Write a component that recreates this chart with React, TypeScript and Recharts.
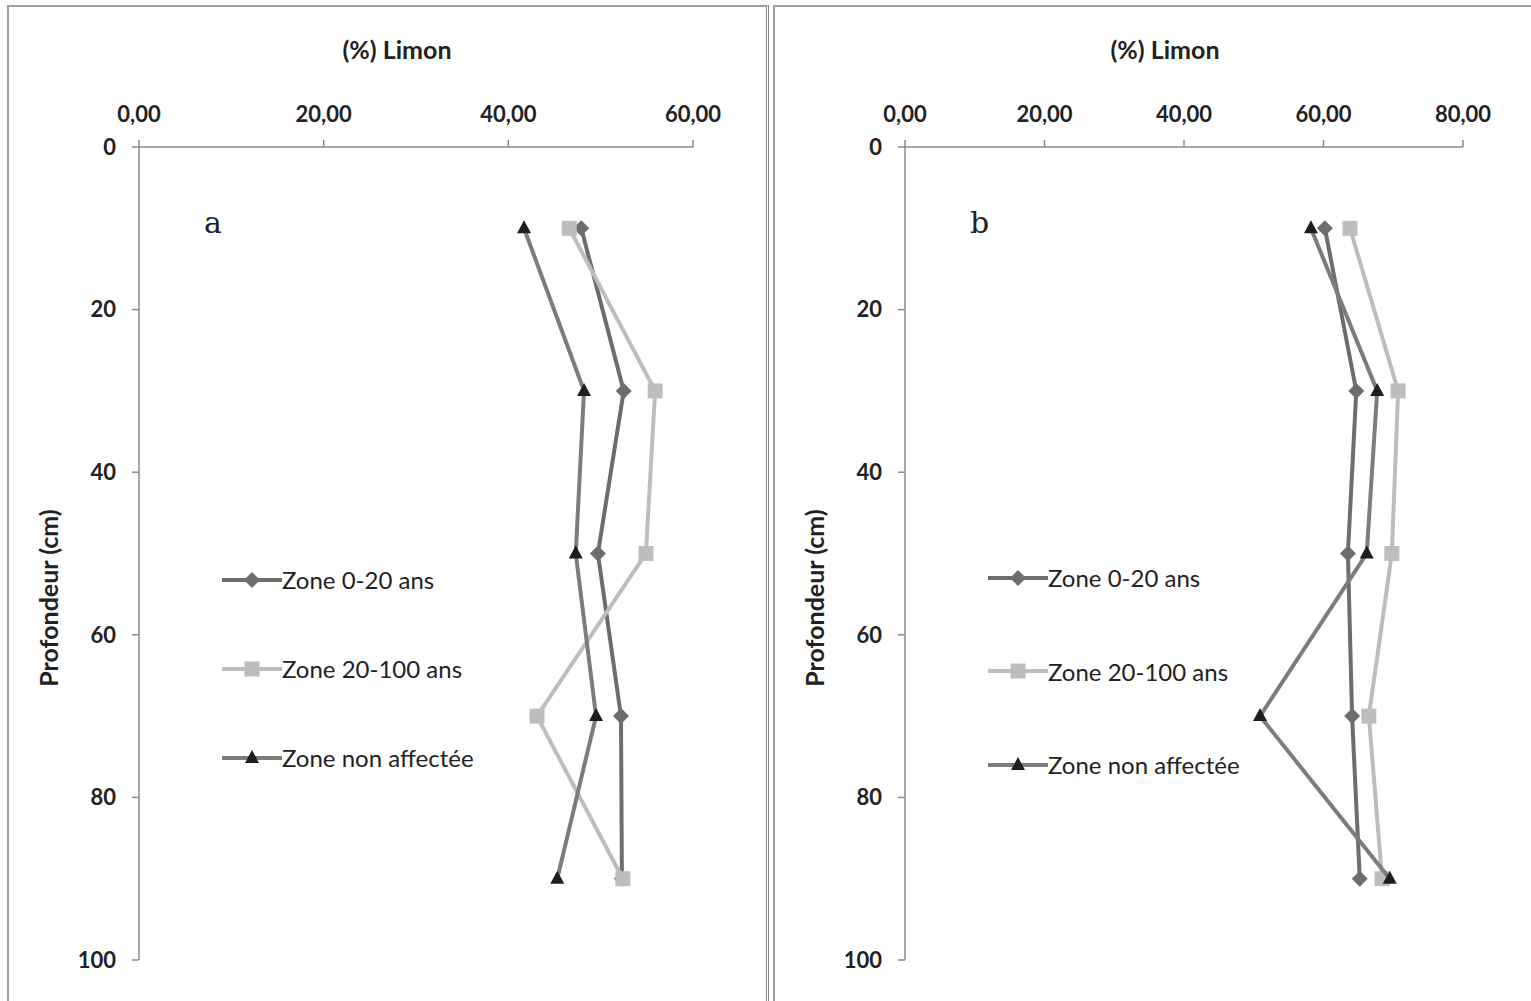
import { ScatterChart, Scatter, XAxis, YAxis } from 'recharts';

const depths = [10, 30, 50, 70, 90];

// panel a
const zoneJeuneA = [47.9, 52.5, 49.7, 52.2, 52.3];
const zoneAncienneA = [46.6, 55.9, 54.9, 43.1, 52.4];
const zoneTemoinA = [41.7, 48.2, 47.3, 49.5, 45.3];

// panel b
const zoneJeuneB = [60.2, 64.7, 63.5, 64.1, 65.2];
const zoneAncienneB = [63.8, 70.7, 69.8, 66.5, 68.4];
const zoneTemoinB = [58.2, 67.7, 66.2, 50.9, 69.5];

const seriesNames = ['Zone 0-20 ans', 'Zone 20-100 ans', 'Zone non affectée'];
const ticksA = [0, 20, 40, 60];
const ticksB = [0, 20, 40, 60, 80];
const depthTicks = [0, 20, 40, 60, 80, 100];

const FONT = 'Lato, "Open Sans", sans-serif';
const AXIS = '#8a8a8a';

const styles = [
    { line: '#6d6d6d', fill: '#6d6d6d', shape: 'diamond' },
    { line: '#bdbdbd', fill: '#bdbdbd', shape: 'square' },
    { line: '#7c7c7c', fill: '#1e1e1e', shape: 'triangle' },
];

const toRows = (vals: number[]) => vals.map((v, i) => ({ limon: v, depth: depths[i] }));

const Marker = ({ cx, cy, kind, color }: { cx: number; cy: number; kind: string; color: string }) => {
    if (kind === 'diamond') {
        return <polygon points={`${cx},${cy - 8} ${cx + 8},${cy} ${cx},${cy + 8} ${cx - 8},${cy}`} fill={color} />;
    }
    if (kind === 'square') {
        return <rect x={cx - 7.5} y={cy - 7.5} width={15} height={15} fill={color} />;
    }
    return <polygon points={`${cx},${cy - 8} ${cx + 7},${cy + 5} ${cx - 7},${cy + 5}`} fill={color} />;
};

const fmt = (v: number) => v.toFixed(2).replace('.', ',');

const LegendBox = ({ left, top, gap }: { left: number; top: number; gap: number }) => (
    <div style={{ position: 'absolute', left, top, fontFamily: FONT, fontSize: 24, color: '#222' }}>
        {seriesNames.map((name, i) => (
            <div key={name} style={{ display: 'flex', alignItems: 'center', height: gap }}>
                <svg width={60} height={20}>
                    <line x1={0} y1={10} x2={60} y2={10} stroke={styles[i].line} strokeWidth={4} />
                    <Marker cx={30} cy={10} kind={styles[i].shape} color={styles[i].fill} />
                </svg>
                <span>{name}</span>
            </div>
        ))}
    </div>
);

interface PanelProps {
    series: number[][];
    max: number;
    ticks: number[];
    left: number;
    yAxisWidth: number;
    plotWidth: number;
    letter: string;
    legendTop: number;
    legendGap: number;
}

const Panel = ({ series, max, ticks, left, yAxisWidth, plotWidth, letter, legendTop, legendGap }: PanelProps) => {
    const plotLeft = yAxisWidth;
    return (
        <div style={{ position: 'absolute', left, top: 0, width: 762, height: 1001 }}>
            <div
                style={{
                    position: 'absolute',
                    left: plotLeft + plotWidth / 2 - 19,
                    top: 34,
                    transform: 'translateX(-50%)',
                    fontFamily: FONT,
                    fontWeight: 700,
                    fontSize: 25,
                    color: '#222',
                    whiteSpace: 'nowrap',
                }}
            >
                (%) Limon
            </div>
            <div
                style={{
                    position: 'absolute',
                    left: plotLeft - 91,
                    top: 598,
                    transform: 'translate(-50%, -50%) rotate(-90deg)',
                    fontFamily: FONT,
                    fontWeight: 700,
                    fontSize: 25,
                    color: '#222',
                    whiteSpace: 'nowrap',
                }}
            >
                Profondeur (cm)
            </div>
            <div
                style={{
                    position: 'absolute',
                    left: plotLeft + 65,
                    top: 205,
                    fontFamily: '"DejaVu Serif", "Liberation Serif", serif',
                    fontSize: 30,
                    color: '#222',
                }}
            >
                {letter}
            </div>
            <ScatterChart width={762} height={1001} margin={{ top: 0, right: 762 - plotLeft - plotWidth, bottom: 41, left: 0 }}>
                <XAxis
                    type="number"
                    dataKey="limon"
                    orientation="top"
                    domain={[0, max]}
                    ticks={ticks}
                    height={147}
                    tickFormatter={fmt}
                    axisLine={{ stroke: AXIS, strokeWidth: 1.5 }}
                    tickLine={{ stroke: AXIS, strokeWidth: 1.5 }}
                    tickSize={7}
                    tickMargin={18}
                    tick={{ fill: '#222', fontSize: 22, fontWeight: 700, fontFamily: FONT }}
                    allowDataOverflow
                />
                <YAxis
                    type="number"
                    dataKey="depth"
                    reversed
                    domain={[0, 100]}
                    ticks={depthTicks}
                    width={yAxisWidth}
                    axisLine={{ stroke: AXIS, strokeWidth: 1.5 }}
                    tickLine={{ stroke: AXIS, strokeWidth: 1.5 }}
                    tickSize={7}
                    tickMargin={16}
                    tick={{ fill: '#222', fontSize: 22, fontWeight: 700, fontFamily: FONT }}
                />
                {series.map((vals, i) => (
                    <Scatter
                        key={seriesNames[i]}
                        name={seriesNames[i]}
                        data={toRows(vals)}
                        fill={styles[i].fill}
                        line={{ stroke: styles[i].line, strokeWidth: 4 }}
                        lineType="joint"
                        isAnimationActive={false}
                        shape={(p: any) => <Marker cx={p.cx} cy={p.cy} kind={styles[i].shape} color={styles[i].fill} />}
                    />
                ))}
            </ScatterChart>
            <LegendBox left={plotLeft + 83} top={legendTop} gap={legendGap} />
        </div>
    );
};

const App = () => {
    return (
        <div style={{ position: 'absolute', left: 0, top: 0, width: 1531, height: 1001, background: '#fff', overflow: 'hidden' }}>
            <div style={{ position: 'absolute', left: 7, top: 5, width: 762, height: 1010, border: '2px solid #a0a0a0', borderRight: '3px double #8a8a8a', boxSizing: 'border-box' }} />
            <div style={{ position: 'absolute', left: 773, top: 5, width: 770, height: 1010, border: '2px solid #a0a0a0', boxSizing: 'border-box' }} />
            <Panel
                series={[zoneJeuneA, zoneAncienneA, zoneTemoinA]}
                max={60}
                ticks={ticksA}
                left={0}
                yAxisWidth={139}
                plotWidth={554}
                letter="a"
                legendTop={535}
                legendGap={89}
            />
            <Panel
                series={[zoneJeuneB, zoneAncienneB, zoneTemoinB]}
                max={80}
                ticks={ticksB}
                left={770}
                yAxisWidth={135}
                plotWidth={558}
                letter="b"
                legendTop={531}
                legendGap={93.5}
            />
        </div>
    );
};

export default App;
